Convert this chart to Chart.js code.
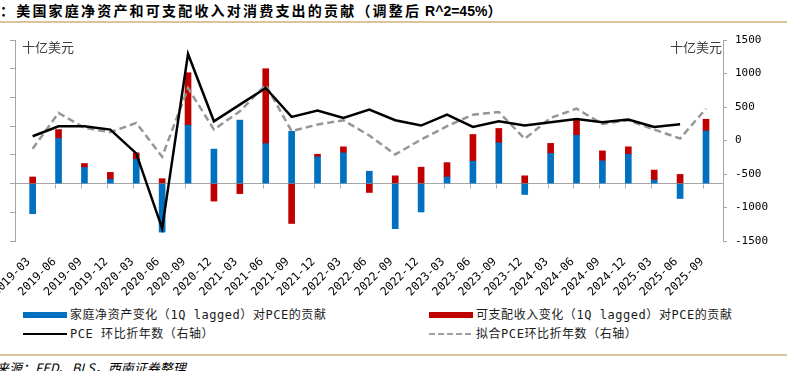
<!DOCTYPE html>
<html>
<head>
<meta charset="utf-8">
<script src="https://cdn.jsdelivr.net/npm/chart.js@4.4.1/dist/chart.umd.min.js"></script>
<style>
  body { margin: 0; width: 787px; height: 371px; overflow: hidden; position: relative; background: #fff;
         font-family: "Noto Sans CJK SC", "Noto Sans", sans-serif; }
  #title { position: absolute; left: 0; top: 0; font-size: 14px; font-weight: bold; letter-spacing: 2.2px;
           white-space: nowrap; color: #000; line-height: 20px; }
  #title .en { font-family: "Liberation Sans", Arial, sans-serif; letter-spacing: 0; }
  .rule { position: absolute; left: 0; width: 787px; height: 2px; background: #dcc39a; }
  #wrap { position: absolute; left: 0; top: 0; }
  .lg { position: absolute; height: 16px; white-space: nowrap; }
  .lg .sw { position: absolute; left: 0; top: 5px; width: 44px; height: 6px; }
  .lg .ln { position: absolute; left: 0; top: 7px; width: 44px; height: 2px; }
  .lg .tx { position: absolute; left: 47px; top: 0; font-size: 12px; line-height: 16px; color: #1a1a1a;
            font-family: "DejaVu Sans Mono", "Noto Sans CJK SC", monospace; letter-spacing: 0.55px; }
  #src { position: absolute; left: -4px; top: 358px; font-size: 13px; font-style: italic; color: #000;
         white-space: nowrap; }
</style>
</head>
<body>
<div id="title">：美国家庭净资产和可支配收入对消费支出的贡献（调整后<span class="en"> R^2=45%</span>）</div>
<div class="rule" style="top:21px"></div>
<div id="wrap"><canvas id="chart" width="787" height="300"></canvas></div>
<div id="legend"></div>
<div class="rule" style="top:354px"></div>
<div id="src">来源：FED、BLS，西南证券整理</div>
<script>
// quarters on the x axis
const quarters = ['2019-03', '2019-06', '2019-09', '2019-12', '2020-03', '2020-06', '2020-09', '2020-12',
  '2021-03', '2021-06', '2021-09', '2021-12', '2022-03', '2022-06', '2022-09', '2022-12',
  '2023-03', '2023-06', '2023-09', '2023-12', '2024-03', '2024-06', '2024-09', '2024-12',
  '2025-03', '2025-06', '2025-09'];

// bars, left axis (十亿美元)
const netWorthContrib = [-105, 157, 56, 15, 84, -169, 203, 120, 221, 139, 182, 93, 107, 43, -157, -99,
  23, 78, 142, -38, 105, 168, 79, 102, 12, -52, 183];
const incomeContrib = [23, 31, 14, 24, 23, 17, 183, -61, -35, 261, -139, 9, 21, -31, 27, 57,
  50, 93, 50, 27, 35, 52, 35, 26, 35, 32, 41];

// lines, right axis
const pceAnnualized = [64, 212, 212, 163, -193, -1311, 1292, 287, 535, 783, 352, 446, 337, 460, 302, 223,
  386, 203, 287, 223, 272, 322, 272, 312, 203, 242, null];
const pceFitted = [-123, 411, 188, 124, 262, -242, 783, 163, 436, 830, 139, 238, 302, 74, -208, 15,
  213, 386, 426, 25, 337, 475, 248, 302, 163, 30, 475];

// axis tick values
const leftTicks = [-200, -100, 0, 100, 200, 300, 400, 500];
const rightTicks = [-1500, -1000, -500, 0, 500, 1000, 1500];
const unitLabel = '十亿美元';

const toXY = arr => arr.map((v, i) => ({ x: i, y: v }));

const axisGray = '#a6a6a6';

// zero-line tick marks and unit captions
const extras = {
  id: 'extras',
  beforeDatasetsDraw(chart) {
    const { ctx, scales: { x, yL } } = chart;
    const y0 = Math.round(yL.getPixelForValue(0)) + 0.5;
    ctx.save();
    ctx.strokeStyle = axisGray;
    ctx.lineWidth = 1;
    ctx.beginPath();
    for (let i = 1; i < quarters.length; i++) {
      const px = Math.round(x.getPixelForValue(i - 0.12)) + 0.5;
      ctx.moveTo(px, y0);
      ctx.lineTo(px, y0 + 4);
    }
    ctx.stroke();
    ctx.restore();
  },
  afterDraw(chart) {
    const { ctx, chartArea: a } = chart;
    ctx.save();
    ctx.fillStyle = '#404040';
    ctx.font = '13px "Noto Sans CJK SC"';
    ctx.textBaseline = 'middle';
    ctx.textAlign = 'left';
    ctx.fillText(unitLabel, a.left + 7, 47);
    ctx.textAlign = 'right';
    ctx.fillText(unitLabel, a.right - 1, 47);
    ctx.restore();
  }
};

const chart = new Chart(document.getElementById('chart'), {
  data: {
    datasets: [
      { type: 'bar', label: '家庭净资产变化（1Q lagged）对PCE的贡献', data: toXY(netWorthContrib),
        backgroundColor: '#0070c0', yAxisID: 'yL', stack: 'c', barThickness: 6, order: 2 },
      { type: 'bar', label: '可支配收入变化（1Q lagged）对PCE的贡献', data: toXY(incomeContrib),
        backgroundColor: '#c00000', yAxisID: 'yL', stack: 'c', barThickness: 6, order: 2 },
      { type: 'line', label: 'PCE 环比折年数（右轴）', data: toXY(pceAnnualized),
        borderColor: '#000000', borderWidth: 2.5, pointRadius: 0, yAxisID: 'yR', order: 1 },
      { type: 'line', label: '拟合PCE环比折年数（右轴）', data: toXY(pceFitted),
        borderColor: '#969696', borderWidth: 2.5, borderDash: [7, 4], pointRadius: 0, yAxisID: 'yR', order: 1 }
    ]
  },
  options: {
    responsive: false,
    animation: false,
    devicePixelRatio: 1,
    layout: { padding: { top: 40, bottom: 4, left: 0, right: 0 } },
    plugins: { legend: { display: false }, tooltip: { enabled: false } },
    scales: {
      x: {
        type: 'linear', min: -0.175, max: 26.15,
        grid: { display: false }, border: { display: false },
        ticks: {
          autoSkip: false, minRotation: 45, maxRotation: 45, padding: 6, labelOffset: -4, color: '#000',
          font: { family: 'DejaVu Sans Mono', size: 11.5 },
          callback: v => quarters[v] ?? ''
        },
        afterBuildTicks: s => { s.ticks = quarters.map((q, i) => ({ value: i })); },
        afterFit: s => { s.paddingLeft = 0; s.paddingRight = 0; s.height = 55; }
      },
      yL: {
        position: 'left', stacked: true, min: leftTicks[0], max: leftTicks[leftTicks.length - 1],
        afterBuildTicks: s => { s.ticks = leftTicks.map(v => ({ value: v })); },
        ticks: { display: false },
        grid: { color: c => c.tick && c.tick.value === 0 ? axisGray : 'rgba(0,0,0,0)', tickColor: axisGray, tickLength: 5 },
        border: { display: true, color: axisGray },
        afterFit: s => { s.width = 15; }
      },
      yR: {
        position: 'right', min: rightTicks[0], max: rightTicks[rightTicks.length - 1],
        afterBuildTicks: s => { s.ticks = rightTicks.map(v => ({ value: v })); },
        ticks: { color: '#000', padding: 8, font: { family: 'DejaVu Sans Mono', size: 11 }, callback: v => String(v) },
        grid: { drawOnChartArea: false, tickColor: axisGray, tickLength: 4 },
        border: { display: true, color: axisGray },
        afterFit: s => { s.width = 64; }
      }
    }
  },
  plugins: [extras]
});

// legend built from the datasets, two columns
const legendPos = [[23, 307], [429, 307], [23, 326], [429, 326]];
const legendEl = document.getElementById('legend');
chart.data.datasets.forEach((ds, i) => {
  const item = document.createElement('div');
  item.className = 'lg';
  item.style.left = legendPos[i][0] + 'px';
  item.style.top = legendPos[i][1] + 'px';
  const mark = document.createElement('span');
  if (ds.type === 'bar') {
    mark.className = 'sw';
    mark.style.background = ds.backgroundColor;
  } else {
    mark.className = 'ln';
    mark.style.background = ds.borderDash
      ? 'repeating-linear-gradient(90deg, #a0a0a0 0 6px, transparent 6px 9px)'
      : ds.borderColor;
  }
  const text = document.createElement('span');
  text.className = 'tx';
  text.textContent = ds.label;
  item.appendChild(mark);
  item.appendChild(text);
  legendEl.appendChild(item);
});
</script>
</body>
</html>
